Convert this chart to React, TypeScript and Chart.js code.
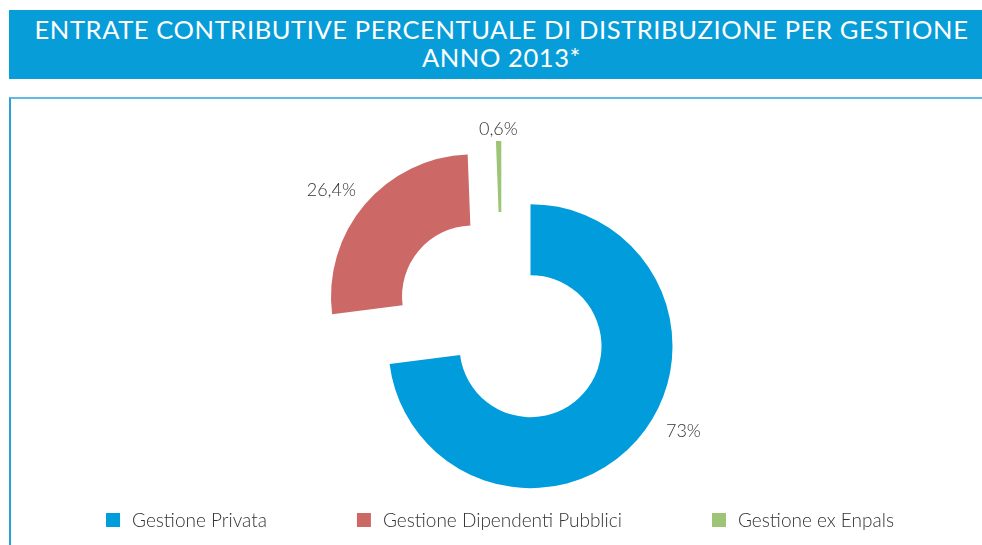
import React, { useEffect, useRef } from "react";
import { Chart, registerables } from "chart.js";

Chart.register(...registerables);

const titleLines = [
  "ENTRATE CONTRIBUTIVE PERCENTUALE DI DISTRIBUZIONE PER GESTIONE",
  "ANNO 2013*",
];
const categories = ["Gestione Privata", "Gestione Dipendenti Pubblici", "Gestione ex Enpals"];
const shares = [73, 26.4, 0.6];
const shareLabels = ["73%", "26,4%", "0,6%"];
const sliceColors = ["#009cdb", "#cc6966", "#9dc575"];

const FONT = "Lato, 'Open Sans', sans-serif";
const EXPLODE = 38;

const explodePlugin = {
  id: "explodeSlices",
  afterDatasetUpdate(chart: any, args: any) {
    args.meta.data.forEach((arc: any) => {
      const mid = (arc.startAngle + arc.endAngle) / 2;
      arc.x += Math.cos(mid) * EXPLODE;
      arc.y += Math.sin(mid) * EXPLODE;
    });
  },
};

const sliceLabelPlugin = {
  id: "sliceLabels",
  afterDatasetsDraw(chart: any) {
    const ctx = chart.ctx;
    const meta = chart.getDatasetMeta(0);
    const angleShift = [-12.3, -3.5, 0];
    const gap = [33, 35, 12];
    ctx.save();
    ctx.font = `300 18px ${FONT}`;
    ctx.fillStyle = "#333333";
    ctx.textAlign = "center";
    ctx.textBaseline = "middle";
    meta.data.forEach((arc: any, i: number) => {
      const a = (arc.startAngle + arc.endAngle) / 2 + (angleShift[i] * Math.PI) / 180;
      const r = arc.outerRadius + gap[i];
      ctx.fillText(shareLabels[i], arc.x + Math.cos(a) * r, arc.y + Math.sin(a) * r);
    });
    ctx.restore();
  },
};

const legendPlugin = {
  id: "bottomLegend",
  afterDraw(chart: any) {
    const ctx = chart.ctx;
    const labels: string[] = chart.data.labels;
    const colors: string[] = chart.data.datasets[0].backgroundColor;
    const box = 14;
    const textGap = 12;
    const itemGap = 90;
    const cy = 520;
    const cx = 500;
    ctx.save();
    ctx.font = `300 19px ${FONT}`;
    const widths = labels.map((l) => box + textGap + ctx.measureText(l).width);
    const total = widths.reduce((s, w) => s + w, 0) + itemGap * (labels.length - 1);
    let x = cx - total / 2;
    ctx.textBaseline = "middle";
    ctx.textAlign = "left";
    labels.forEach((l, i) => {
      ctx.fillStyle = colors[i];
      ctx.fillRect(x, cy - box / 2, box, box);
      ctx.fillStyle = "#333333";
      ctx.fillText(l, x + box + textGap, cy + 1);
      x += widths[i] + itemGap;
    });
    ctx.restore();
  },
};

export default function App() {
  const canvasRef = useRef<HTMLCanvasElement | null>(null);

  useEffect(() => {
    if (!canvasRef.current) return;
    const chart = new Chart(canvasRef.current, {
      type: "doughnut",
      data: {
        labels: categories,
        datasets: [
          {
            data: shares,
            backgroundColor: sliceColors,
            borderWidth: 0,
          },
        ],
      },
      options: {
        animation: false,
        responsive: false,
        radius: 142,
        cutout: "50%",
        layout: { padding: { left: 122, right: 100, top: 147, bottom: 50 } },
        plugins: {
          legend: { display: false },
          tooltip: { enabled: false },
          title: { display: false },
        },
      } as any,
      plugins: [explodePlugin, sliceLabelPlugin, legendPlugin],
    });
    return () => chart.destroy();
  }, []);

  return (
    <div
      style={{
        position: "fixed",
        left: 0,
        top: 0,
        width: 982,
        height: 545,
        background: "#ffffff",
        overflow: "hidden",
      }}
    >
      <div
        style={{
          position: "absolute",
          left: 9,
          top: 10,
          width: 973,
          height: 69,
          background: "#069dd9",
        }}
      />
      <div
        style={{
          position: "absolute",
          left: 9,
          top: 15,
          width: 985,
          textAlign: "center",
          color: "#ffffff",
          fontFamily: FONT,
          fontWeight: 400,
          fontSize: 25.5,
          letterSpacing: "0.6px",
          lineHeight: "28px",
          whiteSpace: "nowrap",
        }}
      >
        {titleLines.map((t, i) => (
          <div key={i}>{t}</div>
        ))}
      </div>
      <div
        style={{
          position: "absolute",
          left: 9,
          top: 97,
          width: 980,
          height: 460,
          borderTop: "2px solid #63bbe5",
          borderLeft: "2px solid #2a9fd8",
          boxSizing: "border-box",
        }}
      />
      <canvas
        ref={canvasRef}
        width={982}
        height={545}
        style={{ position: "absolute", left: 0, top: 0, width: 982, height: 545 }}
      />
    </div>
  );
}
